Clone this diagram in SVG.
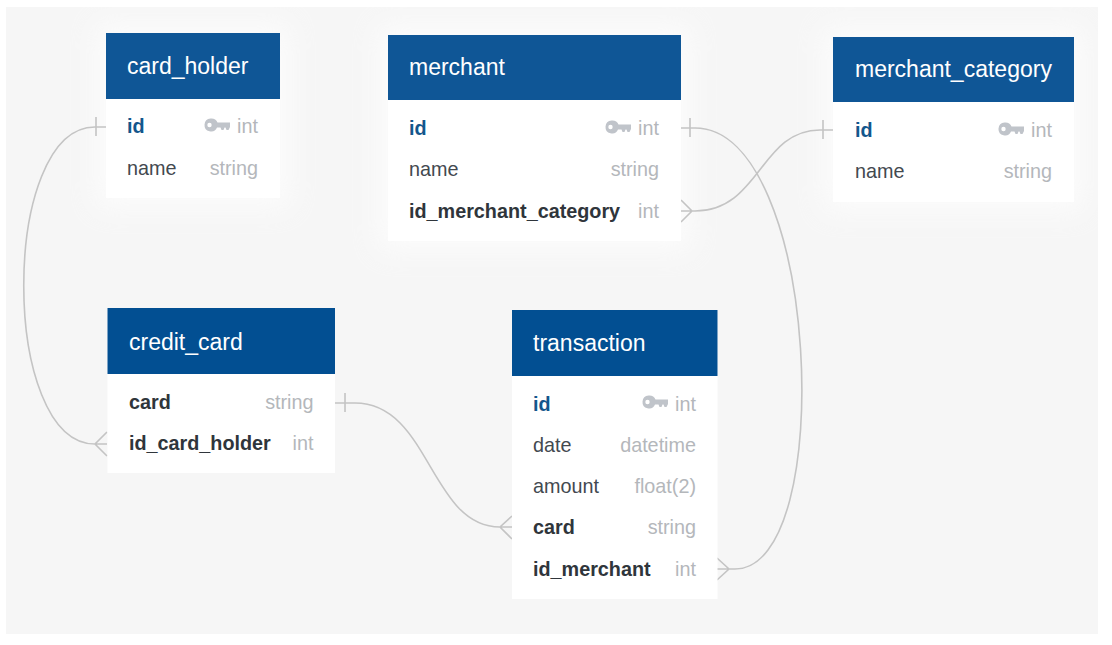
<svg xmlns="http://www.w3.org/2000/svg" width="1112" height="645" viewBox="0 0 1112 645">
<style>
.t{font:23px "Liberation Sans",Arial,sans-serif;fill:#fff}
.r,.b,.p,.y{font-size:19.8px;font-family:"Liberation Sans",Arial,sans-serif}
.r{fill:#43494f}
.b{fill:#2f353b;font-weight:700}
.p{fill:#13568c;font-weight:700}
.y{fill:#b4b7bb;text-anchor:end}
.body{fill:#fff}
.head{fill:#0f5696}
.head2{fill:#024f92}
.c{fill:none;stroke:#c4c4c4;stroke-width:1.6}
.glow{fill:#fff;opacity:.65;filter:url(#blur)}
</style>
<defs>
<filter id="blur" x="-30%" y="-30%" width="160%" height="160%"><feGaussianBlur stdDeviation="14"/></filter>
<path id="key" fill="#c0c4ca" fill-rule="evenodd" d="M6.500 -6.500a6.500 6.500 0 0 1 6 4h12.500v4.500l-1.500 3h-2l-1 -2.500h-1l-1 2.500h-2l-1 -2.500h-3.500a6.500 6.500 0 1 1 -6.500 -9zM4.500 -2.200a2.200 2.200 0 1 0 0 4.400 2.200 2.200 0 0 0 0 -4.400z"/>
</defs>
<rect width="1112" height="645" fill="#fff"/>
<rect x="6" y="7" width="1092" height="627" fill="#f6f6f6"/>
<g id="glows">
<rect class="glow" x="96" y="23" width="194" height="185"/>
<rect class="glow" x="378" y="25" width="313" height="226"/>
<rect class="glow" x="823" y="27" width="261" height="185"/>
</g>
<g id="connectors">
<path class="c" d="M106 127H95C0 127 0 444 95 444H107M107 432L95 444L107 456M96 117V136"/>
<path class="c" d="M681 128H695C820 128 838 569 735 569H717M690 118V137M717 558L729 569L717 580"/>
<path class="c" d="M681 211H695C760 211 760 130 820 130H833M823 120V139M681 200L692 211L681 222"/>
<path class="c" d="M335 403H355C430 403 430 527 500 527H512M345 393V412M512 516L500 527L512 539"/>
</g>
<g id="card_holder">
<rect class="body" x="106" y="33" width="174" height="165"/>
<rect class="head" x="106" y="33" width="174" height="66"/>
<text class="t" x="127" y="74">card_holder</text>
<text class="p" x="127" y="133">id</text>
<use href="#key" x="205" y="125"/>
<text class="y" x="258" y="133">int</text>
<text class="r" x="127" y="175">name</text>
<text class="y" x="258" y="175">string</text>
</g>
<g id="merchant">
<rect class="body" x="388" y="35" width="293" height="206"/>
<rect class="head" x="388" y="35" width="293" height="65"/>
<text class="t" x="409" y="75">merchant</text>
<text class="p" x="409" y="135">id</text>
<use href="#key" x="606" y="127"/>
<text class="y" x="659" y="135">int</text>
<text class="r" x="409" y="176">name</text>
<text class="y" x="659" y="176">string</text>
<text class="b" x="409" y="218">id_merchant_category</text>
<text class="y" x="659" y="218">int</text>
</g>
<g id="merchant_category">
<rect class="body" x="833" y="37" width="241" height="165"/>
<rect class="head" x="833" y="37" width="241" height="65"/>
<text class="t" x="855" y="77">merchant_category</text>
<text class="p" x="855" y="137">id</text>
<use href="#key" x="999" y="129"/>
<text class="y" x="1052" y="137">int</text>
<text class="r" x="855" y="178">name</text>
<text class="y" x="1052" y="178">string</text>
</g>
<g id="credit_card">
<rect class="body" x="107.500" y="308" width="227.500" height="165"/>
<rect class="head2" x="107.500" y="308" width="227.500" height="66"/>
<text class="t" x="129" y="350">credit_card</text>
<text class="b" x="129" y="409">card</text>
<text class="y" x="313.500" y="409">string</text>
<text class="b" x="129" y="450">id_card_holder</text>
<text class="y" x="313.500" y="450">int</text>
</g>
<g id="transaction">
<rect class="body" x="512" y="310" width="205.500" height="289"/>
<rect class="head2" x="512" y="310" width="205.500" height="66"/>
<text class="t" x="533" y="351">transaction</text>
<text class="p" x="533" y="411">id</text>
<use href="#key" x="643" y="402"/>
<text class="y" x="696" y="411">int</text>
<text class="r" x="533" y="452">date</text>
<text class="y" x="696" y="452">datetime</text>
<text class="r" x="533" y="493">amount</text>
<text class="y" x="696" y="493">float(2)</text>
<text class="b" x="533" y="534">card</text>
<text class="y" x="696" y="534">string</text>
<text class="b" x="533" y="576">id_merchant</text>
<text class="y" x="696" y="576">int</text>
</g>
</svg>
